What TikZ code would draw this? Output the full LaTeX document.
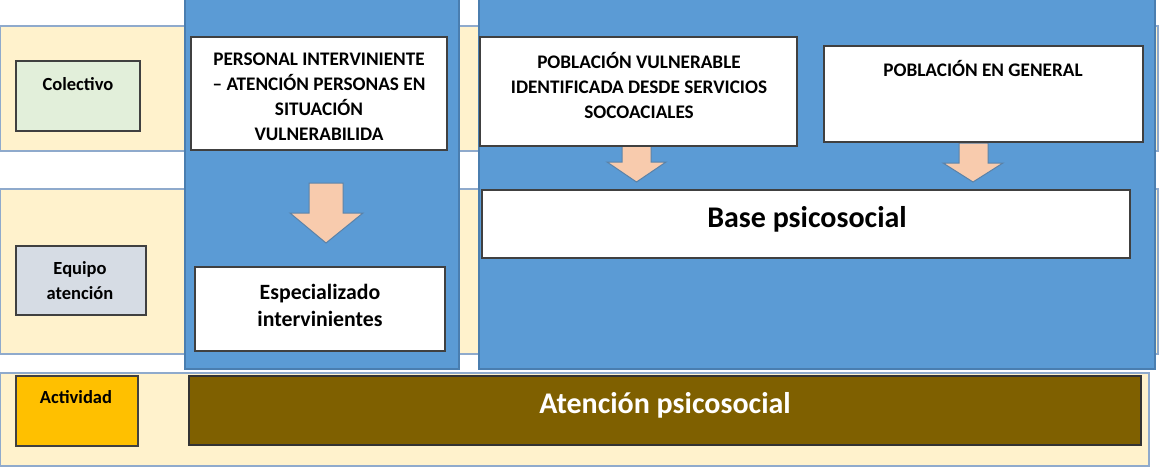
\documentclass[tikz,border=0pt]{standalone}
\usepackage{fontspec}
\setmainfont{Carlito}
\usetikzlibrary{fit}
\definecolor{cream}{HTML}{FFF2CC}
\definecolor{bandline}{HTML}{8FAACC}
\definecolor{bluefill}{HTML}{5B9BD5}
\definecolor{panelline}{HTML}{4A7EB0}
\definecolor{boxline}{HTML}{404040}
\definecolor{greenfill}{HTML}{E2EFDA}
\definecolor{grayfill}{HTML}{D6DCE4}
\definecolor{goldfill}{HTML}{FFC000}
\definecolor{brownfill}{HTML}{7F6000}
\definecolor{arrowfill}{HTML}{F8CBAD}
\definecolor{arrowline}{HTML}{5A82A8}
\begin{document}
\begin{tikzpicture}[x=1pt,y=-1pt,
  band/.style={draw=bandline, fill=cream, line width=1.3pt, inner sep=0pt},
  panel/.style={draw=panelline, fill=bluefill, line width=1.3pt, inner sep=0pt},
  wbox/.style={draw=boxline, fill=white, line width=1.5pt, inner sep=0pt},
  labbox/.style={draw=boxline, line width=1.5pt, inner sep=0pt},
  blockarrow/.style={draw=arrowline, fill=arrowfill, line width=1pt, line join=miter},
  labtxt/.style={font=\bfseries\fontsize{18.5}{25}\selectfont, align=center, inner sep=0pt},
  capstxt/.style={font=\bfseries\fontsize{19.2}{25}\selectfont, align=center, inner sep=0pt},
  midtxt/.style={font=\bfseries\fontsize{21.8}{27}\selectfont, align=center, inner sep=0pt},
  bigtxt/.style={font=\bfseries\fontsize{30}{34}\selectfont, align=center, inner sep=0pt}
]
\useasboundingbox (0,0) rectangle (1164,475);
% bands
\node[band, fit={(0,26) (1158,151)}] (band1) {};
\node[band, fit={(0,189) (1158,354)}] (band2) {};
\node[band, fit={(0,373) (1149,466)}] (band3) {};
% blue panels
\node[panel, fit={(185,-2) (459,369)}] (panel1) {};
\node[panel, fit={(479,-2) (1155,369)}] (panel2) {};
% arrows under the top boxes
\draw[blockarrow] (622,143) -- (651,143) -- (651,162) -- (666,162) -- (636.5,182)
  -- (607,162) -- (622,162) -- cycle;
\draw[blockarrow] (959,143) -- (988,143) -- (988,163) -- (1003,163) -- (973,182)
  -- (943,163) -- (959,163) -- cycle;
% left labels
\node[labbox, fill=greenfill, fit={(16,61) (140,131)}] (colbox) {};
\node[labtxt] (coltxt) at (78,84) {Colectivo};
\node[labbox, fill=grayfill, fit={(16,246) (146,315)}] (eqbox) {};
\node[labtxt] (eqtxt) at (80,281) {Equipo\\atención};
\node[labbox, fill=goldfill, fit={(16,376) (138,446)}] (actbox) {};
\node[labtxt] (acttxt) at (76,397) {Actividad};
% white boxes
\node[wbox, fit={(191,37) (447,150)}] (pers) {};
\node[capstxt] (perstxt) at (319,96.5) {PERSONAL INTERVINIENTE\\– ATENCIÓN PERSONAS EN\\SITUACIÓN\\VULNERABILIDA};
\node[wbox, fit={(480,37) (797,146)}] (pobv) {};
\node[capstxt] (pobvtxt) at (639,85) {POBLACIÓN VULNERABLE\\IDENTIFICADA DESDE SERVICIOS\\SOCOACIALES};
\node[wbox, fit={(824,46) (1143,142)}] (pobg) {};
\node[capstxt] (pobgtxt) at (983,68) {POBLACIÓN EN GENERAL};
% arrow 1
\draw[blockarrow] (309,183) -- (343,183) -- (343,213) -- (363,213) -- (326,243)
  -- (290,213) -- (309,213) -- cycle;
\node[wbox, fit={(195,267) (445,351)}] (esp) {};
\node[midtxt] (esptxt) at (320,305) {Especializado\\intervinientes};
\node[wbox, fit={(482,190) (1130,258)}] (base) {};
\node[bigtxt] (basetxt) at (807,219) {Base psicosocial};
% activity bar
\node[draw=black!80, line width=1.5pt, fill=brownfill, inner sep=0pt, fit={(189,376) (1141,445)}] (aten) {};
\node[bigtxt, text=white] (atentxt) at (665,405) {Atención psicosocial};
\end{tikzpicture}
\end{document}
